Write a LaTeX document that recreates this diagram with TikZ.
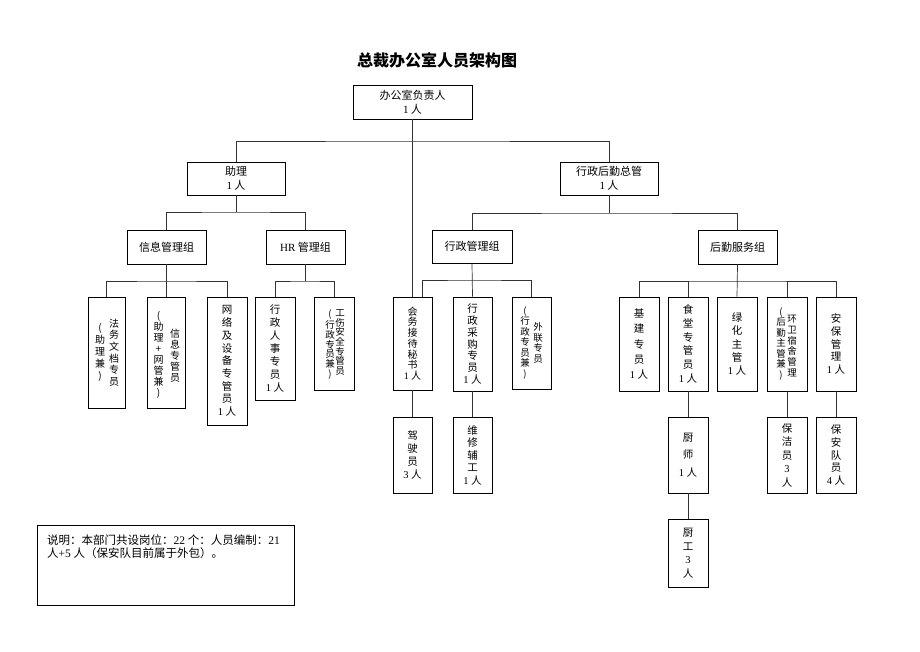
\documentclass[tikz,border=0pt]{standalone}
\usepackage{fontspec}
\setmainfont{Noto Sans CJK SC}
\newfontfamily\latinf{Liberation Serif}
\newcommand\LN[1]{{\latinf #1}}
\usetikzlibrary{calc}
\begin{document}
\begin{tikzpicture}[x=1pt,y=-1pt,
  box/.style={draw=black,line width=0.8pt,inner sep=0pt,fill=white},
  conn/.style={draw=black!80,line width=0.7pt},
  hl/.style={font=\fontsize{11}{13.5}\selectfont,align=center},
  vt/.style 2 args={font=\fontsize{#1}{#2}\selectfont,align=center,inner sep=0pt},
  leaf/.style 2 args={box,minimum width=#1,minimum height=#2}]
\useasboundingbox (0,0) rectangle (920,651);

\node[font=\fontsize{16}{18}\selectfont\bfseries] (title) at (437,60) {总裁办公室人员架构图};

% upper levels
\node[box,hl,minimum width=119pt,minimum height=34pt] (top) at (412.5,102) {办公室负责人\\\LN{1} 人};
\node[box,hl,minimum width=98pt,minimum height=33pt] (zhuli) at (236,178.5) {助理\\\LN{1} 人};
\node[box,hl,minimum width=98pt,minimum height=33pt] (xzhq) at (609,178.5) {行政后勤总管\\\LN{1} 人};
\node[box,hl,minimum width=79pt,minimum height=34pt] (xinxi) at (166.5,247) {信息管理组};
\node[box,hl,minimum width=79pt,minimum height=34pt] (hr) at (305.5,247) {\LN{HR} 管理组};
\node[box,hl,minimum width=80pt,minimum height=33pt] (xzgl) at (472,246.5) {行政管理组};
\node[box,hl,minimum width=79pt,minimum height=34pt] (hqfw) at (737.5,247) {后勤服务组};

% leaf level
\node[leaf={37pt}{111pt}] (b1) at (106.7,352.5) {};
\node[vt={10}{11.7}] (b1r) at ($(b1.center)+(7.3,0)$) {法\\务\\文\\档\\专\\员};
\node[vt={10}{12}] (b1l) at ($(b1.center)+(-6.7,0)$) {(\\助\\理\\兼\\)};

\node[leaf={38pt}{111pt}] (b2) at (166.5,352.5) {};
\node[vt={10}{11}] (b2r) at ($(b2.center)+(8.5,3)$) {信\\息\\专\\管\\员};
\node[vt={10}{11}] (b2l) at ($(b2.center)+(-8,2)$) {(\\助\\理\\+\\网\\管\\兼\\)};

\node[leaf={40pt}{128pt},vt={10.5}{12.7}] (b3) at (227,361) {网\\络\\及\\设\\备\\专\\管\\员\\\LN{1} 人};
\node[leaf={40pt}{103pt},vt={10.5}{12.9}] (b4) at (275,348.5) {行\\政\\人\\事\\专\\员\\\LN{1} 人};

\node[leaf={40pt}{93pt}] (b5) at (334,343.5) {};
\node[vt={9.5}{9.7}] (b5r) at ($(b5.center)+(6,-1)$) {工\\伤\\安\\全\\专\\管\\员};
\node[vt={9.5}{9.7}] (b5l) at ($(b5.center)+(-4,1)$) {(\\行\\政\\专\\员\\兼\\)};

\node[leaf={39pt}{93pt},vt={10}{10.7}] (b6) at (412.5,343.5) {会\\务\\接\\待\\秘\\书\\\LN{1} 人};
\node[leaf={39pt}{94pt},vt={10.5}{11.7}] (b7) at (472.5,344) {行\\政\\采\\购\\专\\员\\\LN{1} 人};

\node[leaf={39pt}{92pt}] (b8) at (531.5,343) {};
\node[vt={9.5}{10.5}] (b8r) at ($(b8.center)+(6.5,0)$) {外\\联\\专\\员};
\node[vt={9.5}{10.5}] (b8l) at ($(b8.center)+(-6.5,0)$) {(\\行\\政\\专\\员\\兼\\)};

\node[leaf={40pt}{94pt},vt={10.5}{15.4}] (b9) at (639,344) {基\\建\\专\\员\\\LN{1} 人};
\node[leaf={40pt}{94pt},vt={10.5}{13.7}] (b10) at (688,344) {食\\堂\\专\\管\\员\\\LN{1} 人};
\node[leaf={40pt}{94pt},vt={10.5}{13.3}] (b11) at (737,344) {绿\\化\\主\\管\\\LN{1} 人};

\node[leaf={40pt}{94pt}] (b12) at (787,344) {};
\node[vt={9.5}{10.7}] (b12r) at ($(b12.center)+(5,2)$) {环\\卫\\宿\\舍\\管\\理};
\node[vt={9.5}{10.5}] (b12l) at ($(b12.center)+(-6,0)$) {(\\后\\勤\\主\\管\\兼\\)};

\node[leaf={40pt}{94pt},vt={10.5}{12.9}] (b13) at (836,344) {安\\保\\管\\理\\\LN{1} 人};

% lower levels
\node[leaf={39pt}{76pt},vt={10.5}{13}] (c1) at (412.5,455) {驾\\驶\\员\\\LN{3} 人};
\node[leaf={39pt}{76pt},vt={10.5}{12.5}] (c2) at (472.5,455) {维\\修\\辅\\工\\\LN{1} 人};
\node[leaf={40pt}{76pt},vt={10.5}{17.5}] (c3) at (688,455) {厨\\师\\\LN{1} 人};
\node[leaf={40pt}{76pt},vt={10.5}{13.5}] (c4) at (787,455) {保\\洁\\员\\\LN{3}\\人};
\node[leaf={40pt}{76pt},vt={10.5}{12.7}] (c5) at (836,455) {保\\安\\队\\员\\\LN{4} 人};
\node[leaf={40pt}{68pt},vt={10.5}{13.5}] (d1) at (688,553) {厨\\工\\\LN{3}\\人};

% note
\node[leaf={257pt}{80pt}] (note) at (165.5,565) {};
\node[anchor=north west,font=\fontsize{11.5}{12.7}\selectfont,align=left,inner sep=0pt] (notet) at (47,534.5)
  {说明：本部门共设岗位：\LN{22} 个：人员编制：\LN{21}\\人\LN{+5} 人（保安队目前属于外包）。};

% junctions
\coordinate (j1) at (412.5,141);
\coordinate (j2) at (236,212);
\coordinate (j3) at (609,213);
\coordinate (j4) at (166.5,281);
\coordinate (j5) at (305.5,281);
\coordinate (j6) at (472,280);
\coordinate (j7) at (737.5,281);

% connectors
\draw[conn] (top.south) -- (b6.north);
\draw[conn] (zhuli.north) |- (j1) -| (xzhq.north);
\draw[conn] (zhuli.south) -- (j2);
\draw[conn] (xinxi.north) |- (j2) -| (hr.north);
\draw[conn] (xzhq.south) -- (j3);
\draw[conn] (xzgl.north) |- (j3) -| (hqfw.north);
\draw[conn] (xinxi.south) -- (b2.north);
\draw[conn] (b1.north) |- (j4) -| (b3.north);
\draw[conn] (hr.south) -- (j5);
\draw[conn] (b4.north) |- (j5) -| (b5.north);
\draw[conn] (xzgl.south) -- (b7.north);
\draw[conn] ([xshift=9.5pt]b6.north) |- (j6) -| (b8.north);
\draw[conn] (hqfw.south) -- (b11.north);
\draw[conn] (b9.north) |- (j7) -| (b13.north);
\draw[conn] (b10.north) -- (b10.north |- j7);
\draw[conn] (b12.north) -- (b12.north |- j7);
\draw[conn] (b6.south) -- (c1.north);
\draw[conn] (b7.south) -- (c2.north);
\draw[conn] (b10.south) -- (c3.north);
\draw[conn] (c3.south) -- (d1.north);
\draw[conn] (b12.south) -- (c4.north);
\draw[conn] (b13.south) -- (c5.north);
\end{tikzpicture}
\end{document}
